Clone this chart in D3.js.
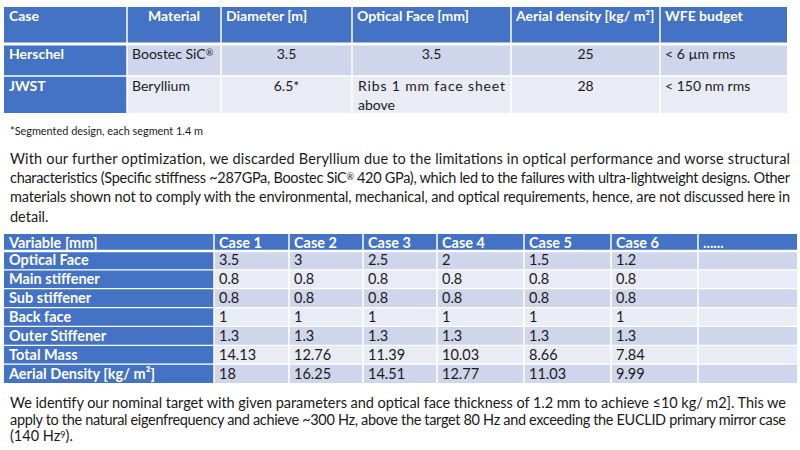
<!DOCTYPE html>
<html>
<head>
<meta charset="utf-8">
<style>
  body { margin: 0; background: #fff; }
  #vis { display: block; }
  text { font-family: Lato, "Open Sans", sans-serif; }
</style>
<script src="https://d3js.org/d3.v7.min.js"></script>
</head>
<body>
<svg id="vis"></svg>
<script>
  var width = 800,
    height = 450,
    //colors
    blue = "#4472C4",
    rowDark = "#CFD5EA",
    rowLight = "#E9EBF5",
    ink = "#1a1a1a";

  // table 1 data -------------------------------------------------
  var t1Columns = ["Case", "Material", "Diameter [m]", "Optical Face [mm]", "Aerial density [kg/ m\u00b2]", "WFE budget"];
  var t1Cases = ["Herschel", "JWST"];
  var t1Material = ["Boostec SiC\u00ae", "Beryllium"];
  var t1Diameter = ["3.5", "6.5*"];
  var t1Optical = ["3.5", "Ribs  1  mm  face  sheet above"];
  var t1Density = [25, 28];
  var t1Wfe = ["< 6 \u00b5m rms", "< 150  nm rms"];
  var footnote = "*Segmented design, each segment 1.4 m";

  // table 2 data -------------------------------------------------
  var t2Columns = ["Variable [mm]", "Case 1", "Case 2", "Case 3", "Case 4", "Case 5", "Case 6", "......"];
  var t2Variables = ["Optical Face", "Main stiffener", "Sub stiffener", "Back face", "Outer Stiffener", "Total Mass", "Aerial Density [kg/ m\u00b2]"];
  var opticalFace = [3.5, 3, 2.5, 2, 1.5, 1.2];
  var mainStiffener = [0.8, 0.8, 0.8, 0.8, 0.8, 0.8];
  var subStiffener = [0.8, 0.8, 0.8, 0.8, 0.8, 0.8];
  var backFace = [1, 1, 1, 1, 1, 1];
  var outerStiffener = [1.3, 1.3, 1.3, 1.3, 1.3, 1.3];
  var totalMass = [14.13, 12.76, 11.39, 10.03, 8.66, 7.84];
  var aerialDensity = [18, 16.25, 14.51, 12.77, 11.03, 9.99];
  var t2Values = [opticalFace, mainStiffener, subStiffener, backFace, outerStiffener, totalMass, aerialDensity];

  // paragraphs (line breaks as in the page)
  var para1 = [
    "With our further optimization, we discarded Beryllium due to the limitations in optical performance and worse structural",
    "characteristics (Specific stiffness ~287GPa, Boostec SiC\u00ae 420 GPa), which led to the failures with ultra-lightweight designs. Other",
    "materials shown not to comply with the environmental, mechanical, and optical requirements, hence, are not discussed here in",
    "detail."
  ];
  var para2 = [
    "We identify our nominal target with given parameters and optical face thickness of 1.2 mm to achieve \u226410 kg/ m2]. This we",
    "apply to the natural eigenfrequency and achieve ~300 Hz, above the target 80 Hz and exceeding the EUCLID primary mirror case",
    "(140 Hz\u2079)."
  ];

  var svg = d3.select("#vis")
    .attr("width", width)
    .attr("height", height);

  // writes a string into a text element, raising ® and ⁹ as small superscripts
  function writeText(el, s) {
    var parts = s.split(/([\u00ae\u2079])/);
    parts.forEach(function(p) {
      if (p == "") return;
      if (p == "\u00ae" || p == "\u2079") {
        el.append("tspan")
          .attr("baseline-shift", "35%")
          .style("font-size", "9px")
          .text(p == "\u00ae" ? "\u00ae" : "9");
      } else {
        el.append("tspan").text(p);
      }
    });
  }

  // table 1 -------------------------------------------------
  var t1Edges = [4, 127, 221, 352, 511, 660, 787];
  var t1Rows = [7, 44, 76, 113];
  var t1Align = ["start", "middle", "start", "start", "start", "start"];
  var t1BodyAlign = ["start", "start", "middle", "middle", "middle", "start"];

  var t1Body = t1Cases.map(function(c, i) {
    return [c, t1Material[i], t1Diameter[i], t1Optical[i], String(t1Density[i]), t1Wfe[i]];
  });

  var t1 = svg.append("g").attr("class", "table1");

  function cellX(edges, j, align) {
    if (align == "middle") return (edges[j] + edges[j + 1]) / 2;
    return edges[j] + 5;
  }

  // header
  t1.selectAll(".h1cell")
    .data(t1Columns)
    .enter().append("rect")
    .attr("class", "h1cell")
    .attr("x", (d, j) => t1Edges[j])
    .attr("y", t1Rows[0])
    .attr("width", (d, j) => t1Edges[j + 1] - t1Edges[j])
    .attr("height", t1Rows[1] - t1Rows[0])
    .style("fill", blue);

  t1.selectAll(".h1text")
    .data(t1Columns)
    .enter().append("text")
    .attr("class", "h1text")
    .attr("x", (d, j) => cellX(t1Edges, j, t1Align[j]))
    .attr("y", t1Rows[0] + 14)
    .attr("text-anchor", (d, j) => t1Align[j])
    .style("font-size", "14px")
    .style("font-weight", "bold")
    .style("fill", "#fff")
    .text(d => d);

  // body
  t1Body.forEach(function(row, i) {
    var y0 = t1Rows[i + 1], y1 = t1Rows[i + 2];
    var g = t1.append("g");
    g.selectAll("rect")
      .data(row)
      .enter().append("rect")
      .attr("x", (d, j) => t1Edges[j])
      .attr("y", y0)
      .attr("width", (d, j) => t1Edges[j + 1] - t1Edges[j])
      .attr("height", y1 - y0)
      .style("fill", (d, j) => j == 0 ? blue : (i % 2 == 0 ? rowDark : rowLight));
    g.selectAll("text")
      .data(row)
      .enter().append("text")
      .attr("x", (d, j) => cellX(t1Edges, j, t1BodyAlign[j]))
      .attr("y", y0 + 15)
      .attr("text-anchor", (d, j) => t1BodyAlign[j])
      .style("font-size", "14px")
      .style("font-weight", (d, j) => j == 0 ? "bold" : "normal")
      .style("fill", (d, j) => j == 0 ? "#fff" : ink)
      .each(function(d, j) {
        var el = d3.select(this);
        if (d.indexOf(" above") > 0 && j == 3) {
          var parts = d.split(" above");
          el.attr("text-anchor", "start").attr("x", t1Edges[j] + 6);
          el.append("tspan").text(parts[0])
            .attr("textLength", t1Edges[j + 1] - t1Edges[j] - 12)
            .attr("lengthAdjust", "spacing");
          el.append("tspan").attr("x", t1Edges[j] + 6).attr("dy", 19).text("above");
        } else {
          writeText(el, d);
        }
      });
  });

  // white grid lines
  t1.selectAll(".v1")
    .data(t1Edges.slice(1, -1))
    .enter().append("line")
    .attr("x1", d => d).attr("x2", d => d)
    .attr("y1", t1Rows[0]).attr("y2", t1Rows[3])
    .style("stroke", "#fff").style("stroke-width", 1.5);
  t1.selectAll(".hl1")
    .data(t1Rows.slice(1, -1))
    .enter().append("line")
    .attr("x1", t1Edges[0]).attr("x2", t1Edges[6])
    .attr("y1", d => d).attr("y2", d => d)
    .style("stroke", "#fff").style("stroke-width", (d, i) => i == 0 ? 3 : 1.5);

  svg.append("text")
    .attr("x", 10)
    .attr("y", 135)
    .attr("textLength", 193)
    .attr("lengthAdjust", "spacingAndGlyphs")
    .style("font-size", "11.5px")
    .style("fill", ink)
    .text(footnote);

  // paragraph helper -------------------------------------------------
  function addPara(lines, x0, x1, y0, lh) {
    svg.append("g").selectAll("text")
      .data(lines)
      .enter().append("text")
      .attr("x", x0)
      .attr("y", (d, i) => y0 + i * lh)
      .style("font-size", "14.5px")
      .style("fill", ink)
      .each(function(d, i) {
        var el = d3.select(this);
        writeText(el, d);
        if (i < lines.length - 1) {
          el.attr("textLength", x1 - x0).attr("lengthAdjust", "spacing");
        }
      });
  }

  addPara(para1, 10, 790, 164, 19.2);

  // table 2 -------------------------------------------------
  var t2Edges = [4, 214, 289, 363, 437, 524, 611, 698, 797];
  var t2Top = 234, t2HeadBottom = 251, t2Bottom = 383;

  var rowScale = d3.scaleBand()
    .domain(d3.range(t2Variables.length))
    .range([t2HeadBottom, t2Bottom]);

  var t2 = svg.append("g").attr("class", "table2");

  t2.selectAll(".h2cell")
    .data(t2Columns)
    .enter().append("rect")
    .attr("x", (d, j) => t2Edges[j])
    .attr("y", t2Top)
    .attr("width", (d, j) => t2Edges[j + 1] - t2Edges[j])
    .attr("height", t2HeadBottom - t2Top)
    .style("fill", blue);

  t2.selectAll(".h2text")
    .data(t2Columns)
    .enter().append("text")
    .attr("x", (d, j) => t2Edges[j] + 5)
    .attr("y", t2Top + 14)
    .style("font-size", "14.5px")
    .style("font-weight", "bold")
    .style("fill", "#fff")
    .text(d => d);

  var t2Rows = t2.selectAll(".row2")
    .data(t2Variables)
    .enter().append("g")
    .attr("class", "row2")
    .attr("transform", (d, i) => "translate(0," + rowScale(i) + ")");

  t2Rows.each(function(v, i) {
    var cells = [v].concat(t2Values[i].map(String)).concat([""]);
    var g = d3.select(this);
    g.selectAll("rect")
      .data(cells)
      .enter().append("rect")
      .attr("x", (d, j) => t2Edges[j])
      .attr("width", (d, j) => t2Edges[j + 1] - t2Edges[j])
      .attr("height", rowScale.bandwidth())
      .style("fill", (d, j) => j == 0 ? blue : (i % 2 == 0 ? rowDark : rowLight));
    g.selectAll("text")
      .data(cells)
      .enter().append("text")
      .attr("x", (d, j) => t2Edges[j] + 5)
      .attr("y", rowScale.bandwidth() / 2 + 5)
      .style("font-size", "14.5px")
      .style("font-weight", (d, j) => j == 0 ? "bold" : "normal")
      .style("fill", (d, j) => j == 0 ? "#fff" : ink)
      .text(d => d);
  });

  t2.selectAll(".v2")
    .data(t2Edges.slice(1, -1))
    .enter().append("line")
    .attr("x1", d => d).attr("x2", d => d)
    .attr("y1", t2Top).attr("y2", t2Bottom)
    .style("stroke", "#fff").style("stroke-width", 1.5);
  t2.selectAll(".hl2")
    .data(d3.range(t2Variables.length))
    .enter().append("line")
    .attr("x1", t2Edges[0]).attr("x2", t2Edges[8])
    .attr("y1", d => rowScale(d)).attr("y2", d => rowScale(d))
    .style("stroke", "#fff").style("stroke-width", (d, i) => i == 0 ? 2.5 : 1.2);

  addPara(para2, 10, 786, 408, 16.5);
</script>
</body>
</html>
